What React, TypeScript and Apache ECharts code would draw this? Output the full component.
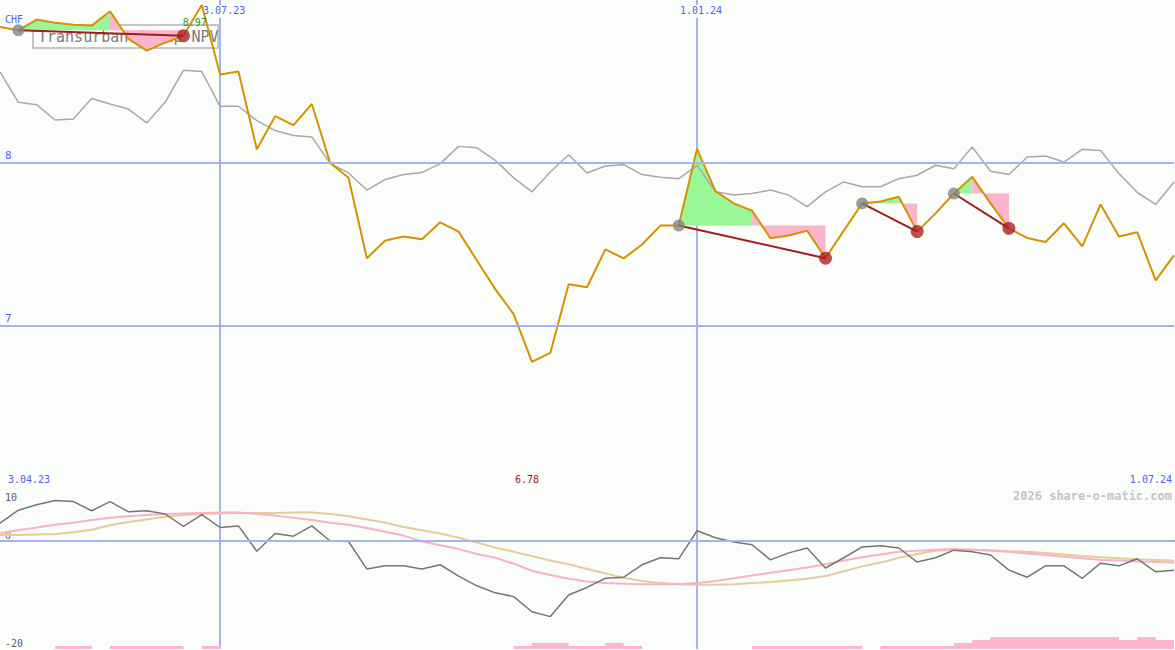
import React, { useEffect, useRef } from "react";
import * as echarts from "echarts";

// weekly dates from 10.04.23 to 1.07.24
const startDate = { y: 2023, m: 3, d: 10 };
const weekCount = 65;
const dates: string[] = Array.from({ length: weekCount }, (_, i) => {
  const dt = new Date(startDate.y, startDate.m, startDate.d + 7 * i);
  return `${dt.getDate()}.${String(dt.getMonth() + 1).padStart(2, "0")}.${String(dt.getFullYear()).slice(2)}`;
});

const price = [
  8.835, 8.814, 8.88, 8.86, 8.848, 8.843, 8.931, 8.762, 8.689, 8.738,
  8.78, 8.97, 8.543, 8.561, 8.085, 8.287, 8.232, 8.362, 8.0, 7.909,
  7.416, 7.524, 7.549, 7.532, 7.636, 7.579, 7.402, 7.226, 7.073, 6.78,
  6.835, 7.256, 7.238, 7.47, 7.415, 7.5, 7.616, 7.616, 8.087, 7.827,
  7.752, 7.707, 7.538, 7.555, 7.584, 7.416, 7.585, 7.752, 7.764, 7.793,
  7.579, 7.691, 7.813, 7.915, 7.752, 7.599, 7.54, 7.515, 7.63, 7.488,
  7.746, 7.549, 7.575, 7.28, 7.433,
];

const compare = [
  8.559, 8.372, 8.358, 8.264, 8.27, 8.396, 8.362, 8.331, 8.246, 8.372,
  8.569, 8.561, 8.348, 8.348, 8.26, 8.199, 8.169, 8.16, 7.998, 7.939,
  7.834, 7.899, 7.929, 7.941, 7.996, 8.102, 8.093, 8.016, 7.909, 7.823,
  7.945, 8.051, 7.939, 7.982, 7.99, 7.929, 7.913, 7.904, 7.986, 7.823,
  7.803, 7.813, 7.834, 7.803, 7.732, 7.823, 7.884, 7.854, 7.854, 7.904,
  7.925, 7.986, 7.965, 8.098, 7.949, 7.929, 8.037, 8.043, 8.006, 8.084,
  8.077, 7.935, 7.819, 7.746, 7.884,
];

const oscMain = [
  3.3, 5.7, 6.7, 7.5, 7.3, 5.6, 7.3, 5.4, 5.6, 5.0,
  2.7, 4.9, 2.5, 2.8, -1.9, 1.4, 0.9, 2.8, 0.0, -0.1,
  -5.2, -4.6, -4.6, -5.2, -4.4, -6.5, -8.3, -9.6, -10.3, -13.1,
  -14.0, -10.0, -8.6, -6.9, -6.7, -4.4, -3.1, -3.3, 1.9, 0.6,
  -0.2, -0.7, -3.5, -2.2, -1.3, -5.0, -3.1, -1.1, -0.9, -1.3,
  -3.9, -3.1, -1.7, -2.0, -2.6, -5.4, -6.7, -4.6, -4.6, -6.9,
  -4.1, -4.6, -3.3, -5.7, -5.4,
];

const oscPink = [
  1.5, 2.0, 2.5, 3.0, 3.4, 3.9, 4.3, 4.6, 4.8, 5.0,
  5.1, 5.2, 5.3, 5.3, 5.0, 4.7, 4.3, 3.9, 3.4, 3.0,
  2.4, 1.7, 1.0, -0.1, -0.8, -1.5, -2.4, -3.1, -4.2, -5.5,
  -6.3, -7.0, -7.5, -7.8, -7.9, -8.0, -8.0, -8.0, -7.8, -7.4,
  -6.9, -6.4, -5.9, -5.4, -4.9, -4.3, -3.6, -3.0, -2.5, -2.0,
  -1.8, -1.6, -1.5, -1.6, -1.8, -2.0, -2.3, -2.6, -2.9, -3.2,
  -3.5, -3.6, -3.8, -3.9, -4.0,
];

const oscTan = [
  1.1, 1.1, 1.2, 1.3, 1.6, 2.1, 2.9, 3.5, 4.0, 4.5,
  4.8, 5.0, 5.1, 5.2, 5.2, 5.2, 5.3, 5.3, 5.0, 4.6,
  4.0, 3.4, 2.6, 2.0, 1.4, 0.6, -0.3, -1.2, -2.0, -2.8,
  -3.6, -4.3, -5.2, -6.0, -6.8, -7.4, -7.8, -8.0, -8.1, -8.1,
  -8.0, -7.8, -7.6, -7.3, -7.0, -6.5, -5.6, -4.7, -4.0, -3.1,
  -2.4, -1.8, -1.6, -1.6, -1.7, -1.9, -2.0, -2.2, -2.5, -2.8,
  -3.0, -3.2, -3.4, -3.5, -3.6,
];

const barLevels = [
  0, 0, 0, 1, 1, 0, 1, 1, 1, 1,
  0, 1, 0, 0, 0, 0, 0, 0, 0, 0,
  0, 0, 0, 0, 0, 0, 0, 0, 1, 2,
  2, 1, 1, 2, 1, 0, 0, 0, 0, 0,
  0, 1, 1, 1, 1, 1, 1, 0, 1, 1,
  1, 1, 2, 3, 4, 4, 4, 4, 4, 4,
  4, 3, 4, 3, 3,
];

// signal groups: buy index, index where gain turns to loss fill, sell index
const signals = [
  { buy: 1, turn: 6, sell: 10 },
  { buy: 37, turn: 41, sell: 45 },
  { buy: 47, turn: 49, sell: 50 },
  { buy: 52, turn: 53, sell: 55 },
];

const markedDates = ["3.07.23", "1.01.24"];
const priceGridLines = [7, 8];
const oscLabelsLow = [0, -20];
const oscLabelsHigh = [10];
const currencyLabel = "CHF";
const leftDateLabel = "3.04.23";
const rightDateLabel = "1.07.24";
const legendName = "Transurban Group NPV";
const watermark = "2026 share-o-matic.com";

const BG = "#fbfdfb";
const BLUE_TEXT = "#4f5ff2";
const GRID_BLUE = "#a6b3f3";
const MONO = "DejaVu Sans Mono";

export default function App() {
  const ref = useRef<HTMLDivElement>(null);

  useEffect(() => {
    if (!ref.current) return;
    const chart = echarts.init(ref.current, undefined, { renderer: "svg" });

    const markedIdx = (i: number) => markedDates.includes(dates[i]);

    const areaSeries: any[] = [];
    signals.forEach((s) => {
      const level = price[s.buy];
      areaSeries.push({
        type: "line",
        xAxisIndex: 0,
        yAxisIndex: 0,
        z: 2,
        symbol: "none",
        silent: true,
        data: price.map((v, i) => (i >= s.buy && i <= s.turn ? v : null)),
        lineStyle: { width: 0, opacity: 0 },
        areaStyle: { color: "#98f898", opacity: 1, origin: level },
      });
      areaSeries.push({
        type: "line",
        xAxisIndex: 0,
        yAxisIndex: 0,
        z: 2,
        symbol: "none",
        silent: true,
        data: price.map((v, i) => (i >= s.turn && i <= s.sell ? v : null)),
        lineStyle: { width: 0, opacity: 0 },
        areaStyle: { color: "#fbb5ca", opacity: 1, origin: level },
      });
    });

    const signalLines = signals.map((s) => ({
      type: "line",
      xAxisIndex: 0,
      yAxisIndex: 0,
      z: 5,
      symbol: "none",
      silent: true,
      data: [
        [s.buy, price[s.buy]],
        [s.sell, price[s.sell]],
      ],
      lineStyle: { color: "#a31c1c", width: 2 },
    }));

    const option: any = {
      animation: false,
      backgroundColor: BG,
      grid: [
        { left: 0, top: -3, width: 1174, height: 492 },
        { left: 0, top: 487, width: 1174, height: 162 },
      ],
      xAxis: [
        {
          gridIndex: 0,
          type: "category",
          data: dates,
          boundaryGap: false,
          position: "top",
          axisLine: { show: false },
          axisTick: { show: false },
          axisLabel: {
            inside: true,
            interval: (i: number) => markedIdx(i),
            color: BLUE_TEXT,
            fontFamily: MONO,
            fontSize: 10,
            margin: 5,
            backgroundColor: BG,
            padding: [0, 0, 3, 8],
          },
          splitLine: {
            show: true,
            interval: (i: number) => markedIdx(i),
            lineStyle: { color: GRID_BLUE, width: 2 },
          },
        },
        {
          gridIndex: 1,
          type: "category",
          data: dates,
          boundaryGap: false,
          position: "top",
          axisLine: { show: true, lineStyle: { color: "#7b84ea", width: 2 } },
          axisTick: { show: false },
          axisLabel: { show: false },
          splitLine: {
            show: true,
            interval: (i: number) => markedIdx(i),
            lineStyle: { color: GRID_BLUE, width: 2 },
          },
        },
      ],
      yAxis: [
        {
          gridIndex: 0,
          type: "value",
          min: 6,
          max: 9,
          interval: 1,
          position: "left",
          axisLine: { show: false },
          axisTick: { show: false },
          splitLine: { show: false },
          axisLabel: {
            inside: true,
            margin: 5,
            verticalAlign: "bottom",
            padding: [0, 0, 2, 0],
            color: BLUE_TEXT,
            fontFamily: MONO,
            fontSize: 11,
            formatter: (v: number) => (priceGridLines.includes(v) ? String(v) : ""),
          },
        },
        {
          gridIndex: 1,
          type: "value",
          min: -20,
          max: 10,
          interval: 10,
          position: "left",
          axisLine: { show: false },
          axisTick: { show: false },
          splitLine: { show: false },
          axisLabel: {
            inside: true,
            margin: 5,
            verticalAlign: "bottom",
            padding: [0, 0, 1, 0],
            color: "#606060",
            fontFamily: MONO,
            fontSize: 10,
            formatter: (v: number) => (oscLabelsLow.includes(v) ? String(v) : ""),
          },
        },
        {
          gridIndex: 1,
          type: "value",
          min: -20,
          max: 10,
          interval: 10,
          position: "left",
          offset: 0,
          axisLine: { show: false },
          axisTick: { show: false },
          splitLine: { show: false },
          axisLabel: {
            inside: true,
            margin: 5,
            verticalAlign: "top",
            padding: [5, 0, 0, 0],
            color: "#606060",
            fontFamily: MONO,
            fontSize: 10,
            formatter: (v: number) => (oscLabelsHigh.includes(v) ? String(v) : ""),
          },
        },
        {
          gridIndex: 1,
          type: "value",
          min: 0,
          max: 54,
          show: false,
        },
      ],
      graphic: [
        {
          type: "rect",
          z: 0,
          shape: { x: 33, y: 25, width: 185, height: 23 },
          style: { fill: "none", stroke: "#c6c6c6", lineWidth: 2 },
        },
        {
          type: "text",
          z: 0,
          x: 38,
          y: 37,
          style: {
            text: legendName,
            fill: "#7c7c7c",
            font: `15px '${MONO}'`,
            verticalAlign: "middle",
          },
        },
        {
          type: "text",
          z: 10,
          x: 5,
          y: 14,
          style: { text: currencyLabel, fill: BLUE_TEXT, font: `10px '${MONO}'` },
        },
        {
          type: "text",
          z: 10,
          x: 8,
          y: 474,
          style: { text: leftDateLabel, fill: BLUE_TEXT, font: `10px '${MONO}'` },
        },
        {
          type: "text",
          z: 10,
          x: 1172,
          y: 474,
          style: { text: rightDateLabel, fill: BLUE_TEXT, font: `10px '${MONO}'`, align: "right" },
        },
        {
          type: "text",
          z: 10,
          x: 1172,
          y: 490,
          style: {
            text: watermark,
            fill: "#c4c4c4",
            font: `bold 12px '${MONO}'`,
            align: "right",
          },
        },
      ],
      series: [
        ...areaSeries,
        {
          type: "line",
          name: "compare",
          xAxisIndex: 0,
          yAxisIndex: 0,
          z: 3,
          symbol: "none",
          silent: true,
          data: compare,
          lineStyle: { color: "#a9a9a9", width: 1.5 },
          markLine: {
            silent: true,
            symbol: "none",
            label: { show: false },
            lineStyle: { color: GRID_BLUE, width: 2, type: "solid" },
            data: priceGridLines.map((v) => ({ yAxis: v })),
          },
        },
        {
          type: "line",
          name: legendName,
          xAxisIndex: 0,
          yAxisIndex: 0,
          z: 4,
          symbol: "none",
          silent: true,
          data: price,
          lineStyle: { color: "#d69200", width: 2 },
          markPoint: {
            symbolSize: 0,
            silent: true,
            data: [
              {
                type: "max",
                label: {
                  show: true,
                  color: "#1f9a1f",
                  fontFamily: MONO,
                  fontSize: 10,
                  offset: [-7, 18],
                  formatter: (p: any) => Number(p.value).toFixed(2),
                },
              },
              {
                type: "min",
                label: {
                  show: true,
                  color: "#a32020",
                  fontFamily: MONO,
                  fontSize: 10,
                  offset: [-5, 118],
                  formatter: (p: any) => Number(p.value).toFixed(2),
                },
              },
            ],
          },
        },
        ...signalLines,
        {
          type: "scatter",
          xAxisIndex: 0,
          yAxisIndex: 0,
          z: 6,
          silent: true,
          symbolSize: 12,
          itemStyle: { color: "#858585" },
          data: signals.map((s) => [s.buy, price[s.buy]]),
        },
        {
          type: "scatter",
          xAxisIndex: 0,
          yAxisIndex: 0,
          z: 6,
          silent: true,
          symbolSize: 13,
          itemStyle: { color: "#a82222" },
          data: signals.map((s) => [s.sell, price[s.sell]]),
        },
        // bottom panel
        {
          type: "line",
          xAxisIndex: 1,
          yAxisIndex: 3,
          z: 2,
          step: "end",
          symbol: "none",
          silent: true,
          data: barLevels,
          lineStyle: { width: 0, opacity: 0 },
          areaStyle: { color: "#fbb5cc", opacity: 1 },
        },
        {
          type: "line",
          xAxisIndex: 1,
          yAxisIndex: 1,
          z: 3,
          symbol: "none",
          silent: true,
          data: oscTan,
          lineStyle: { color: "#e5cc9a", width: 2 },
          markLine: {
            silent: true,
            symbol: "none",
            label: { show: false },
            lineStyle: { color: GRID_BLUE, width: 2, type: "solid" },
            data: [{ yAxis: 0 }],
          },
        },
        {
          type: "line",
          xAxisIndex: 1,
          yAxisIndex: 1,
          z: 3,
          symbol: "none",
          silent: true,
          data: oscPink,
          lineStyle: { color: "#f9b1c9", width: 2 },
        },
        {
          type: "line",
          xAxisIndex: 1,
          yAxisIndex: 1,
          z: 4,
          symbol: "none",
          silent: true,
          data: oscMain,
          lineStyle: { color: "#767676", width: 1.5 },
        },
      ],
    };

    chart.setOption(option);
    return () => chart.dispose();
  }, []);

  return (
    <div
      ref={ref}
      style={{ position: "absolute", left: 0, top: 0, width: 1175, height: 650 }}
    />
  );
}
